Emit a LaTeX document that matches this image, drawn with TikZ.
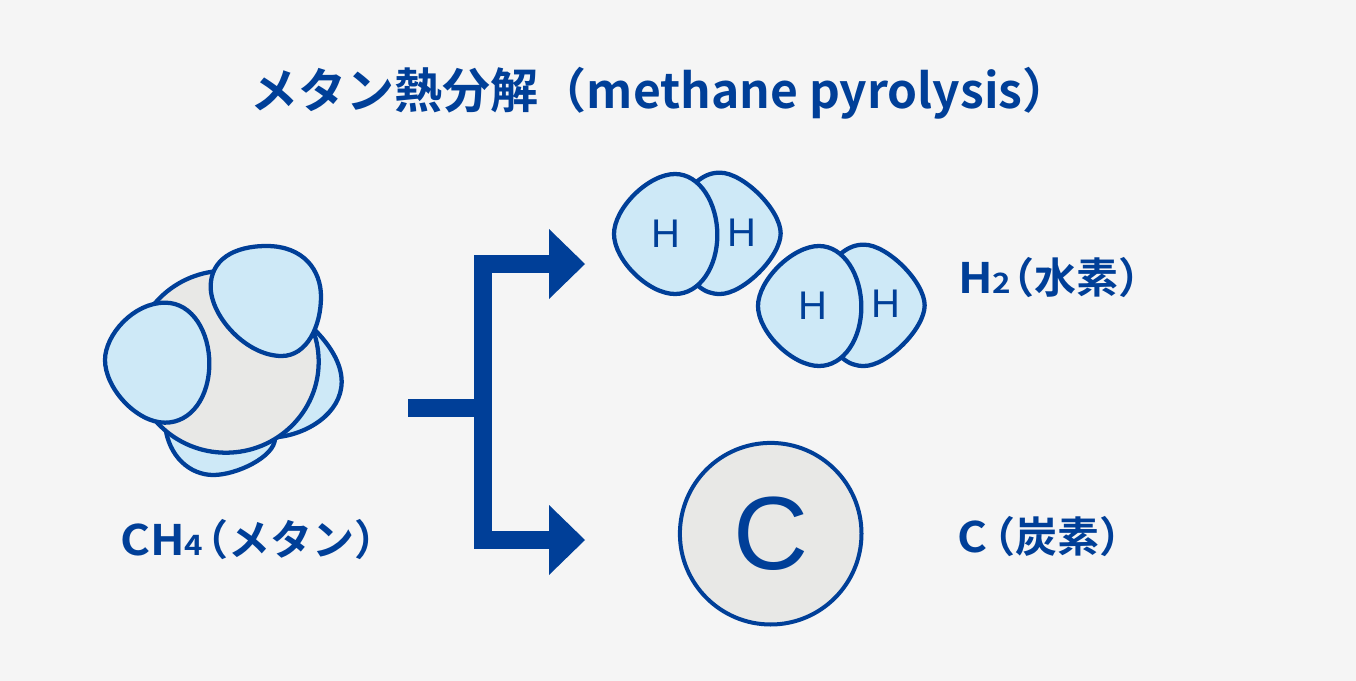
\documentclass[tikz,border=0pt]{standalone}
\usepackage{fontspec}
\newfontfamily\jpb{Noto Sans CJK JP Bold}
\newfontfamily\jpw[FakeStretch=1.09]{Noto Sans CJK JP Bold}
\newfontfamily\jpd[FakeStretch=1.12]{Noto Sans CJK JP Bold}
\newfontfamily\lat{Liberation Sans}
\definecolor{navy}{HTML}{003F98}
\definecolor{lobe}{HTML}{CEE9F7}
\definecolor{core}{HTML}{E8E8E6}
\definecolor{paper}{HTML}{F5F5F5}
\tikzset{
  blob/.style={draw=navy,line width=3.2pt,fill=lobe,line join=round},
  coreblob/.style={blob,fill=core},
  heavy/.style={draw=navy,line width=13.5pt,line join=miter},
  head/.style={fill=navy,draw=none},
  atomH/.style={text=navy,font=\lat\fontsize{30}{32}\selectfont,inner sep=0pt},
  label/.style={text=navy,font=\jpb\fontsize{31.5}{36}\selectfont,inner sep=0pt,anchor=base west},
  title/.style={text=navy,font=\jpb\fontsize{36}{40}\selectfont,inner sep=0pt,anchor=base west},
  zoomA/.style={shift={(90,230)},x=0.25pt,y=-0.25pt},
  zoomB/.style={shift={(600,160)},x=0.25pt,y=-0.25pt},
}
\newcommand{\wide}[1]{{\jpw #1}}
\newcommand{\smalld}[1]{{\jpd\fontsize{21}{22}\selectfont #1}}
\newcommand{\pairH}{%
  \draw[blob] (290,65) .. controls (315,45) and (335,38) .. (360,38)
    .. controls (430,38) and (542,150) .. (542,220)
    .. controls (542,290) and (430,402) .. (360,402)
    .. controls (335,402) and (315,395) .. (295,378) -- cycle;
  \draw[blob] (225,42) .. controls (300,42) and (352,130) .. (352,225)
    .. controls (352,320) and (300,402) .. (225,402)
    .. controls (145,402) and (42,300) .. (42,222)
    .. controls (42,145) and (145,42) .. (225,42) -- cycle;
}
\begin{document}
\begin{tikzpicture}[x=0.75pt,y=-0.75pt]
\useasboundingbox (0,0) rectangle (1356,681);
\fill[paper] (0,0) rectangle (1356,681);
% title
\node[title] (ttl) at (250.5,108.5) {メタン熱分解（methane pyrolysis）};
% CH4 back lobes
\begin{scope}[zoomA]
  \draw[blob] (670,295) .. controls (720,345) and (755,400) .. (755,455)
    .. controls (755,550) and (650,615) .. (555,622) -- cycle;
  \draw[blob] (225,585) .. controls (235,680) and (300,735) .. (370,735)
    .. controls (440,735) and (555,680) .. (555,625) -- cycle;
\end{scope}
% CH4 core
\draw[coreblob] (226,361.7) ellipse [x radius=92.7,y radius=91];
% CH4 front lobes
\begin{scope}[zoomA]
  \draw[blob] (530,48) .. controls (640,48) and (693,120) .. (693,200)
    .. controls (693,290) and (650,378) .. (575,378)
    .. controls (470,378) and (362,260) .. (362,170)
    .. controls (362,90) and (430,48) .. (530,48) -- cycle;
  \draw[blob] (225,218) .. controls (310,218) and (358,310) .. (358,400)
    .. controls (358,500) and (305,578) .. (225,578)
    .. controls (140,578) and (45,475) .. (45,390)
    .. controls (45,315) and (130,218) .. (225,218) -- cycle;
\end{scope}
% H2 pairs
\begin{scope}[zoomB]
  \pairH
\end{scope}
\begin{scope}[shift={(144,72)}]
  \begin{scope}[zoomB]
    \pairH
  \end{scope}
\end{scope}
\node[atomH] (h1) at (665.7,234) {H};
\node[atomH] (h2) at (742.3,232.5) {H};
\node[atomH] (h3) at (812.7,305.8) {H};
\node[atomH] (h4) at (886,304) {H};
% carbon
\node[circle,minimum size=136.2pt,draw=navy,line width=3pt,fill=core,inner sep=0pt] (carbon) at (770.7,533.7) {};
\node[text=navy,font=\lat\fontsize{78}{80}\selectfont,inner sep=0pt] (cc) at (770.7,533.7) {C};
% connector
\coordinate (st) at (408,408);
\coordinate (jn) at (483,408);
\coordinate (tp) at (483,264);
\coordinate (bt) at (483,540);
\coordinate (ta) at (550,264);
\coordinate (ba) at (550,540);
\draw[heavy] (st) -- (jn);
\draw[heavy] (ta) -- (tp) -- (bt) -- (ba);
\fill[head] (549,229) -- (585,264) -- (549,299) -- cycle;
\fill[head] (549,505) -- (585,540) -- (549,575) -- cycle;
% labels
\node[label] (lch) at (120,555) {\wide{CH}\smalld{4}\hspace{-12.5pt}（メタン）};
\node[label] (lh) at (958,293) {\wide{H}\smalld{2}\hspace{-14.5pt}（水素）};
\node[label] (lc) at (957,552) {\wide{C}\hspace{-10.5pt}（炭素）};
\end{tikzpicture}
\end{document}
